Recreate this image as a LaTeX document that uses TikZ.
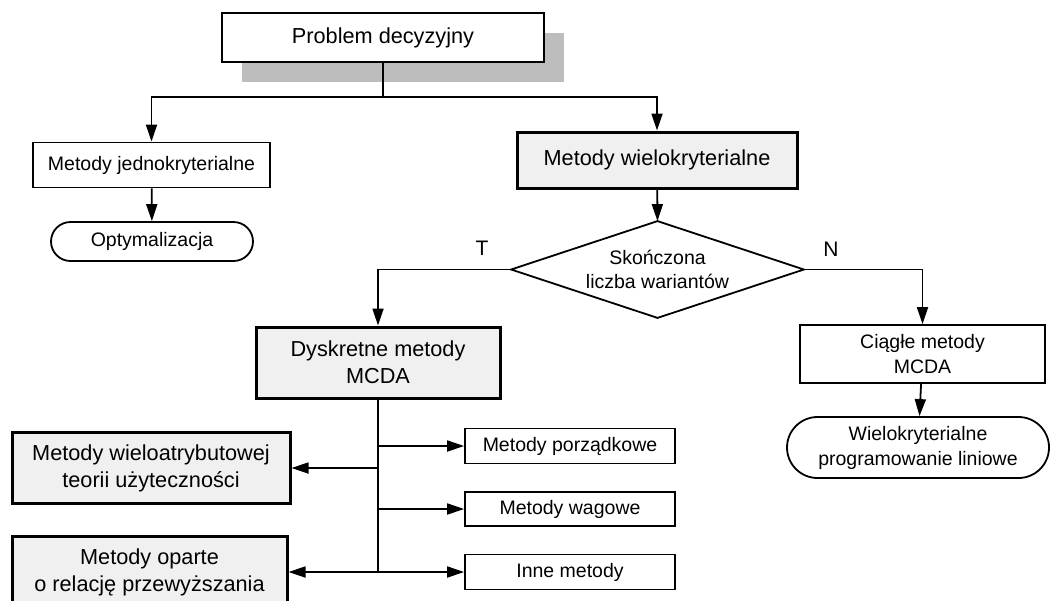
\documentclass[tikz,border=0pt]{standalone}
\usepackage{fontspec}
\setmainfont{Liberation Sans}
\usetikzlibrary{arrows.meta,shapes.misc,shadows}

\definecolor{boxgray}{HTML}{F0F0F0}
\definecolor{shadowgray}{HTML}{BDBDBD}

\begin{document}
\begin{tikzpicture}[
    x=0.5pt, y=-0.5pt,
    block/.style={rectangle, draw=black, line width=0.9pt, fill=white,
        inner sep=2pt, align=center, font=\fontsize{9.75}{12.5}\selectfont},
    mainblock/.style={block, line width=1.5pt, fill=boxgray,
        font=\fontsize{10.85}{13.5}\selectfont},
    terminal/.style={block, rounded rectangle},
    label/.style={inner sep=0pt, font=\fontsize{10.5}{12}\selectfont},
    link/.style={line width=0.9pt, -},
    arrow/.style={link, -{Triangle[length=8.5pt, width=5.5pt]}}
]
    \useasboundingbox (0,0) rectangle (1052,600);
    \clip (0,0) rectangle (1052,600);

    \node[block, minimum width=161pt, minimum height=24.5pt,
        font=\fontsize{10.85}{13.5}\selectfont,
        drop shadow={shadow xshift=10pt, shadow yshift=-10pt,
            fill=shadowgray, opacity=1}] (problem) at (383,37.5) {Problem decyzyjny};
    \node[block, minimum width=118.5pt, minimum height=22.5pt] (jedno) at (151.5,165) {Metody jednokryterialne};
    \node[terminal, minimum width=105pt, minimum height=19.5pt] (optym) at (152,241.5) {Optymalizacja};
    \node[mainblock, minimum width=140pt, minimum height=28pt] (wielo) at (657,160) {Metody wielokryterialne};
    \node[block, draw=none, fill=none, minimum width=145.5pt, minimum height=47.5pt,
        font=\fontsize{9.75}{12}\selectfont] (skonczona) at (657.5,269.5) {Skończona\\liczba wariantów};
    \node[label] (tlabel) at (482,248) {T};
    \node[label] (nlabel) at (831,249) {N};
    \node[mainblock, minimum width=122pt, minimum height=35.5pt] (dyskretne) at (378,362.5) {Dyskretne metody\\MCDA};
    \node[block, minimum width=122.5pt, minimum height=29pt] (ciagle) at (922.5,354) {Ciągłe metody\\MCDA};
    \node[terminal, minimum width=135pt, minimum height=30.5pt] (wielolin) at (918,447.5) {Wielokryterialne\\programowanie liniowe};
    \node[mainblock, minimum width=139pt, minimum height=35.5pt] (mavt) at (151,468) {Metody wieloatrybutowej\\teorii użyteczności};
    \node[mainblock, minimum width=137.5pt, minimum height=35.5pt] (relacja) at (149.5,572) {Metody oparte\\o relację przewyższania};
    \node[block, minimum width=105pt, minimum height=17.5pt] (porzadkowe) at (570,446) {Metody porządkowe};
    \node[block, minimum width=105pt, minimum height=17pt] (wagowe) at (570,509) {Metody wagowe};
    \node[block, minimum width=105pt, minimum height=17.5pt] (inne) at (570,572) {Inne metody};

    \coordinate (split) at (383,97);
    \coordinate (b1) at (378,446);
    \coordinate (b2) at (378,509);
    \coordinate (b3) at (378,572);
    \coordinate (bl) at (378,468);

    % decision diamond
    \draw[link] (skonczona.north) -- (skonczona.east) -- (skonczona.south)
        -- (skonczona.west) -- cycle;

    \draw[link] (problem) -- (split);
    \draw[arrow] (split) -| (jedno);
    \draw[arrow] (split) -| (wielo);
    \draw[arrow] (jedno) -- (optym);
    \draw[arrow] (wielo) -- (skonczona.north);
    \draw[arrow] (skonczona.west) -| (dyskretne);
    \draw[arrow] (skonczona.east) -| (ciagle);
    \draw[arrow] (ciagle) -- (wielolin);

    \draw[link] (dyskretne) -- (b3);
    \draw[arrow] (b1) -- (porzadkowe);
    \draw[arrow] (b2) -- (wagowe);
    \draw[arrow] (b3) -- (inne);
    \draw[arrow] (bl) -- (mavt);
    \draw[arrow] (b3) -- (relacja);
\end{tikzpicture}
\end{document}
